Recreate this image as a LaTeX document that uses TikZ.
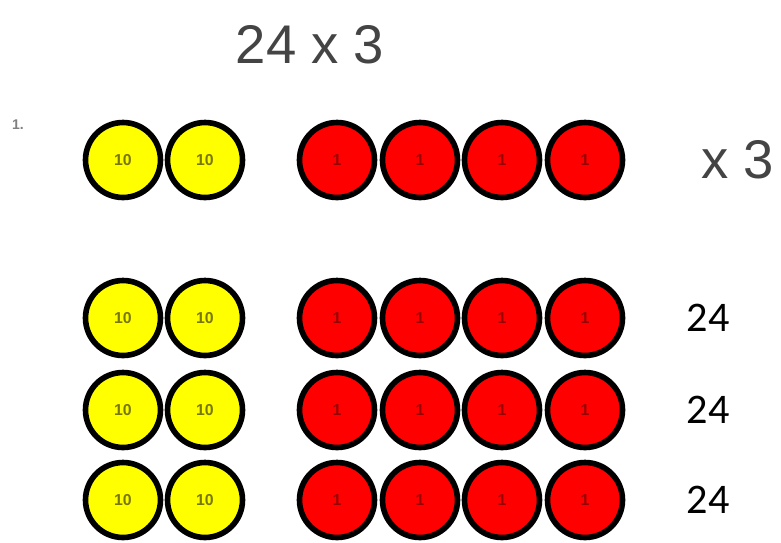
\documentclass[tikz,border=0pt]{standalone}
\usepackage{fontspec}
\setmainfont{Liberation Sans}
\newfontfamily\calfont{Carlito}
\usetikzlibrary{positioning}
\definecolor{tenyellow}{RGB}{255,255,0}
\definecolor{onered}{RGB}{255,0,0}
\definecolor{headgray}{RGB}{68,68,68}

\begin{document}
\begin{tikzpicture}[
    x=0.02cm, y=-0.02cm,
    coin/.style={circle, draw=black, line width=3.2pt,
                 minimum size=1.5cm, inner sep=0pt,
                 font=\fontsize{9}{9}\selectfont\bfseries},
    ten/.style={coin, fill=tenyellow, text={rgb,255:red,120;green,120;blue,0}},
    one/.style={coin, fill=onered, text={rgb,255:red,150;green,0;blue,0}},
    bigtext/.style={font=\fontsize{31}{31}\selectfont, text=headgray},
    rowtext/.style={font=\calfont\fontsize{24}{24}\selectfont}
]
\useasboundingbox (0,0) rectangle (781,542);

\node[bigtext] (title) at (310,45) {24 x 3};
\node[font=\fontsize{8}{8}\selectfont\bfseries, text=gray] (num) at (18,125) {1.};

% one group of 24
\node[ten] (t1) at (123,160) {10};
\node[ten] (t2) at (205,160) {10};
\node[one] (o1) at (337,160) {1};
\node[one] (o2) at (420,160) {1};
\node[one] (o3) at (502,160) {1};
\node[one] (o4) at (585,160) {1};
\node[bigtext] (times) at (738,160) {x 3};

% three groups of 24
\foreach \r/\y in {a/318, b/410, c/500} {
  \node[ten] (t1\r) at (123,\y) {10};
  \node[ten] (t2\r) at (205,\y) {10};
  \node[one] (o1\r) at (337,\y) {1};
  \node[one] (o2\r) at (420,\y) {1};
  \node[one] (o3\r) at (502,\y) {1};
  \node[one] (o4\r) at (585,\y) {1};
  \node[rowtext] (sum\r) at (708,\y) {24};
}
\end{tikzpicture}
\end{document}
